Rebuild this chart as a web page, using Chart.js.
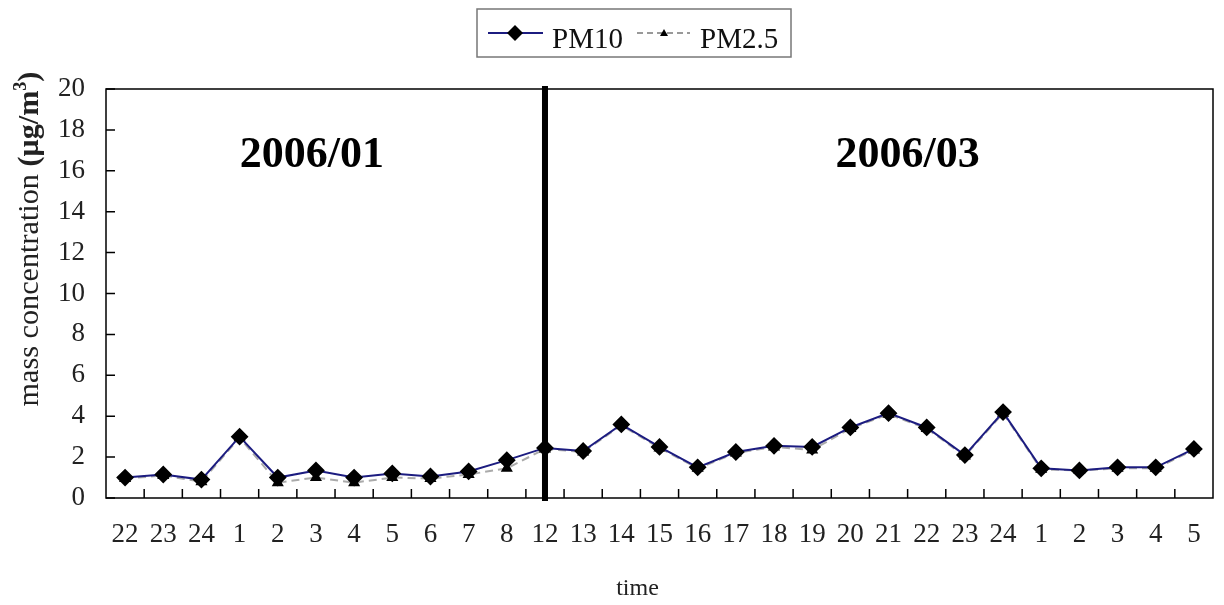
<!DOCTYPE html>
<html>
<head>
<meta charset="utf-8">
<script src="https://cdn.jsdelivr.net/npm/chart.js@4.4.1/dist/chart.umd.min.js"></script>
<style>
html, body { margin: 0; padding: 0; background: #fff; }
</style>
</head>
<body>
<canvas id="c" width="1224" height="605"></canvas>
<script>
// hour of day, Jan 2006 then Mar 2006
const hours = ['22','23','24','1','2','3','4','5','6','7','8','12','13','14','15','16','17','18','19','20','21','22','23','24','1','2','3','4','5']
const pm10 = [1.0,1.15,0.9,3.0,1.0,1.35,1.0,1.2,1.05,1.3,1.85,2.45,2.3,3.6,2.5,1.5,2.25,2.55,2.5,3.45,4.15,3.45,2.1,4.2,1.45,1.35,1.5,1.5,2.4]
const pm25 = [0.95,1.1,0.8,2.95,0.75,1.0,0.75,1.0,0.95,1.15,1.45,2.4,2.25,3.55,2.45,1.45,2.2,2.5,2.35,3.4,4.1,3.4,2.05,4.15,1.4,1.35,1.45,1.45,2.35]
const yTicks = [0,2,4,6,8,10,12,14,16,18,20]
const periods = ['2006/01','2006/03']
const splitIndex = 11

const SERIF = '"Liberation Serif", "Times New Roman", serif'

const decor = {
  id: 'decor',
  afterDraw(chart) {
    const { ctx, chartArea: a, scales: { x, y } } = chart
    ctx.save()

    // frame
    ctx.strokeStyle = '#000'
    ctx.lineWidth = 1.5
    ctx.strokeRect(a.left, a.top, a.right - a.left, a.bottom - a.top)

    // inward tick marks
    ctx.beginPath()
    yTicks.forEach(v => {
      const py = y.getPixelForValue(v)
      ctx.moveTo(a.left, py)
      ctx.lineTo(a.left + 9, py)
    })
    const step = x.getPixelForValue(1) - x.getPixelForValue(0)
    for (let i = 1; i < hours.length; i++) {
      const px = x.getPixelForValue(i) - step / 2
      ctx.moveTo(px, a.bottom)
      ctx.lineTo(px, a.bottom - 9)
    }
    ctx.stroke()

    // month divider
    const sx = x.getPixelForValue(splitIndex)
    ctx.fillStyle = '#000'
    ctx.fillRect(sx - 3, a.top - 3, 6, a.bottom - a.top + 6)

    // period labels
    ctx.font = 'bold 44px ' + SERIF
    ctx.textAlign = 'center'
    ctx.textBaseline = 'alphabetic'
    ctx.fillText(periods[0], x.getPixelForValue(5) - 4, y.getPixelForValue(16.2))
    ctx.fillText(periods[1], (x.getPixelForValue(20) + x.getPixelForValue(21)) / 2, y.getPixelForValue(16.2))

    // x title
    ctx.font = '24px ' + SERIF
    ctx.fillStyle = '#222'
    ctx.fillText('time', (a.left + a.right) / 2 - 22, 595)

    // y title, mixed weight, fitted to the reference length
    const parts = [
      { t: 'mass concentration ', f: '', up: false },
      { t: '(\u03bcg/m', f: 'bold ', up: false },
      { t: '3', f: 'bold ', up: true },
      { t: ')', f: 'bold ', up: false }
    ]
    const measure = size => {
      let total = 0
      parts.forEach(p => {
        ctx.font = p.f + (p.up ? size * 0.6 : size) + 'px ' + SERIF
        p.w = ctx.measureText(p.t).width
        total += p.w
      })
      return total
    }
    const fs = 26 * 335 / measure(26)
    const len = measure(fs)
    ctx.translate(38, 239 + len / 2)
    ctx.rotate(-Math.PI / 2)
    ctx.textAlign = 'left'
    let cx = 0
    parts.forEach(p => {
      ctx.font = p.f + (p.up ? fs * 0.6 : fs) + 'px ' + SERIF
      ctx.fillText(p.t, cx, p.up ? -fs * 0.4 : 0)
      cx += p.w
    })
    ctx.restore()

    // legend box
    ctx.save()
    ctx.strokeStyle = '#777'
    ctx.lineWidth = 1.5
    ctx.strokeRect(477, 9, 314, 48)
    ctx.strokeStyle = '#1c1c80'
    ctx.lineWidth = 2
    ctx.beginPath(); ctx.moveTo(488, 33); ctx.lineTo(543, 33); ctx.stroke()
    ctx.fillStyle = '#000'
    ctx.beginPath()
    ctx.moveTo(507, 33); ctx.lineTo(515, 25); ctx.lineTo(523, 33); ctx.lineTo(515, 41)
    ctx.closePath(); ctx.fill()
    ctx.strokeStyle = '#999'
    ctx.setLineDash([6, 4])
    ctx.beginPath(); ctx.moveTo(637, 33); ctx.lineTo(690, 33); ctx.stroke()
    ctx.setLineDash([])
    ctx.beginPath()
    ctx.moveTo(664, 29); ctx.lineTo(668, 36); ctx.lineTo(660, 36)
    ctx.closePath(); ctx.fill()
    ctx.font = '29px ' + SERIF
    ctx.fillStyle = '#111'
    ctx.textAlign = 'left'
    ctx.textBaseline = 'alphabetic'
    ctx.fillText('PM10', 552, 48)
    ctx.fillText('PM2.5', 700, 48)
    ctx.restore()
  }
}

new Chart(document.getElementById('c'), {
  type: 'line',
  data: {
    labels: hours,
    datasets: [
      {
        label: 'PM10',
        data: pm10,
        borderColor: '#1c1c80',
        borderWidth: 2,
        pointStyle: 'rectRot',
        pointRadius: 7.5,
        pointBackgroundColor: '#000',
        pointBorderColor: '#000',
        tension: 0
      },
      {
        label: 'PM2.5',
        data: pm25,
        borderColor: '#aaa',
        borderWidth: 2,
        borderDash: [8, 5],
        pointStyle: 'triangle',
        pointRadius: 5,
        pointBackgroundColor: '#000',
        pointBorderColor: '#000',
        tension: 0
      }
    ]
  },
  options: {
    responsive: false,
    animation: false,
    layout: { padding: { top: 89, right: 11, left: 0, bottom: 0 } },
    plugins: { legend: { display: false }, tooltip: { enabled: false } },
    scales: {
      x: {
        offset: true,
        grid: { display: false, drawTicks: false },
        border: { display: false },
        ticks: { font: { family: SERIF, size: 27 }, color: '#222', padding: 21, maxRotation: 0, autoSkip: false },
        afterFit(s) { s.height = 107 }
      },
      y: {
        min: 0,
        max: 20,
        afterBuildTicks(s) { s.ticks = yTicks.map(v => ({ value: v })) },
        grid: { display: false, drawTicks: false },
        border: { display: false },
        ticks: { font: { family: SERIF, size: 27 }, color: '#222', padding: 21 },
        afterFit(s) { s.width = 106 }
      }
    }
  },
  plugins: [decor]
})
</script>
</body>
</html>
